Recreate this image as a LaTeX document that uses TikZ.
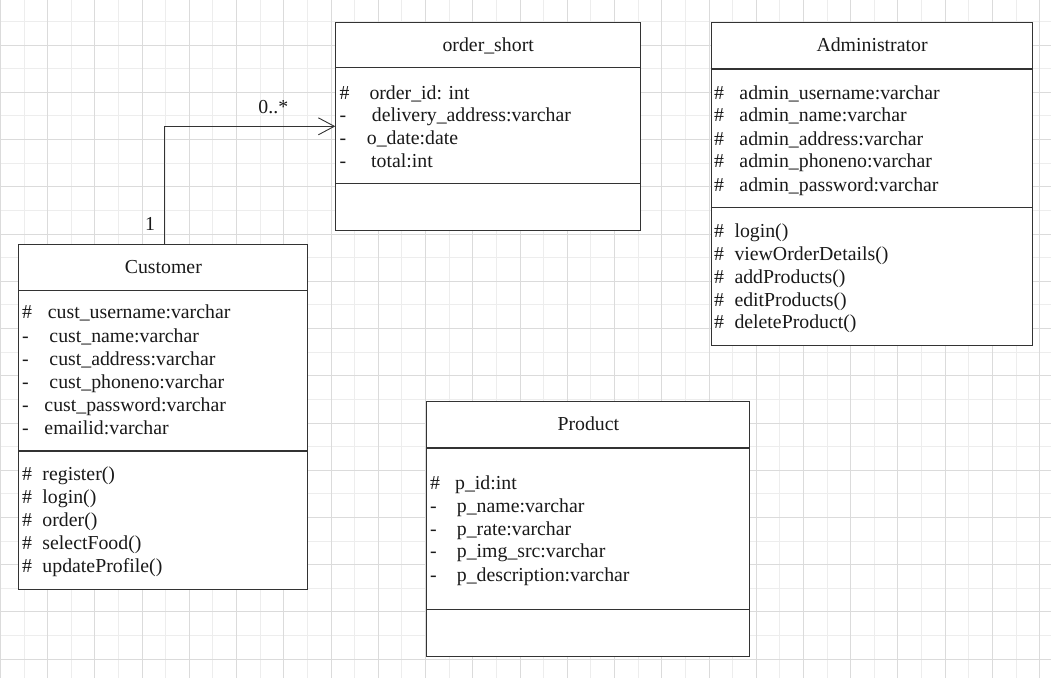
\documentclass[tikz,border=0pt]{standalone}
\usepackage{fontspec}
\setmainfont{Liberation Serif}
\usetikzlibrary{arrows.meta}
\def\vis#1#2{\makebox[#2][l]{#1}}
\def\sepline(#1)(#2){\draw[boxline] ([yshift=-#2]#1.north west) -- ([yshift=-#2]#1.north east);}

\tikzset{
	gridminor/.style={line width=0.8pt, color=black!7},
	gridmajor/.style={line width=0.8pt, color=black!14},
	boxline/.style={line width=1.1pt, color=black!80},
	classbox/.style={boxline, draw, fill=white, anchor=north west, inner sep=0pt},
	txt/.style={font=\fontsize{19.8}{23}\selectfont, text=black!90, inner sep=0pt, text height=14pt, text depth=4pt},
	headtext/.style={txt, anchor=center},
	attrline/.style={txt, anchor=west, text height=15pt, text depth=3pt},
	assoc/.style={line width=1pt, color=black!80, -{Straight Barb[length=16pt, width=17pt, line width=0.9pt]}},
}

\begin{document}
\begin{tikzpicture}[x=1pt, y=-1pt]
		%%%%% GRID %%%%%
		\useasboundingbox (0,0) rectangle (1051,678);
		\begin{scope}
		\clip (0,0) rectangle (1051,678);
		\foreach \i in {0,...,22} \draw[gridminor] ({23.92+47.24*\i},0) -- ({23.92+47.24*\i},678);
		\foreach \j in {0,...,14} \draw[gridminor] (0,{21.38+47.24*\j}) -- (1051,{21.38+47.24*\j});
		\foreach \i in {0,...,22} \draw[gridmajor] ({0.3+47.24*\i},0) -- ({0.3+47.24*\i},678);
		\foreach \j in {1,...,14} \draw[gridmajor] (0,{-2.24+47.24*\j}) -- (1051,{-2.24+47.24*\j});
		\end{scope}
		
		%%%%% CLASSES %%%%%
		\node[classbox, minimum width=304.7pt, minimum height=207.7pt] (ordershort) at (335.3,22.3) {};
		\node[classbox, minimum width=289pt, minimum height=344.7pt] (customer) at (18.3,244.3) {};
		\node[classbox, minimum width=321.6pt, minimum height=322.7pt] (admin) at (710.7,22.3) {};
		\node[classbox, minimum width=323pt, minimum height=254.4pt] (product) at (426.3,401.3) {};
		
		\sepline(ordershort)(45.4pt)
		\sepline(ordershort)(161pt)
		\sepline(customer)(46.4pt)
		\sepline(customer)(206.7pt)
		\sepline(admin)(46.7pt)
		\sepline(admin)(185pt)
		\sepline(product)(46.7pt)
		\sepline(product)(208pt)
		
		%%%%% order_short %%%%%
		\node[headtext] (ordershort-name) at ([yshift=-23.7pt]ordershort.north) {order\_short};
		\node[attrline] (os-1) at ([xshift=4pt, yshift=-70.7pt]ordershort.north west) {\vis{\#}{30pt}order\_id: int};
		\node[attrline] (os-2) at ([xshift=4pt, yshift=-93.4pt]ordershort.north west) {\vis{-}{32.4pt}delivery\_address:varchar};
		\node[attrline] (os-3) at ([xshift=4pt, yshift=-116.1pt]ordershort.north west) {\vis{-}{27.4pt}o\_date:date};
		\node[attrline] (os-4) at ([xshift=4pt, yshift=-138.8pt]ordershort.north west) {\vis{-}{31.7pt}total:int};
		
		%%%%% Customer %%%%%
		\node[headtext] (customer-name) at ([yshift=-24.2pt]customer.north) {Customer};
		\node[attrline] (cu-1) at ([xshift=3.7pt, yshift=-68.4pt]customer.north west) {\vis{\#}{25.7pt}cust\_username:varchar};
		\node[attrline] (cu-2) at ([xshift=3.7pt, yshift=-91.7pt]customer.north west) {\vis{-}{27.3pt}cust\_name:varchar};
		\node[attrline] (cu-3) at ([xshift=3.7pt, yshift=-115pt]customer.north west) {\vis{-}{27.3pt}cust\_address:varchar};
		\node[attrline] (cu-4) at ([xshift=3.7pt, yshift=-138.4pt]customer.north west) {\vis{-}{27.3pt}cust\_phoneno:varchar};
		\node[attrline] (cu-5) at ([xshift=3.7pt, yshift=-161pt]customer.north west) {\vis{-}{22.3pt}cust\_password:varchar};
		\node[attrline] (cu-6) at ([xshift=3.7pt, yshift=-184pt]customer.north west) {\vis{-}{22.3pt}emailid:varchar};
		\node[attrline] (cu-m1) at ([xshift=3.7pt, yshift=-230pt]customer.north west) {\vis{\#}{20.3pt}register()};
		\node[attrline] (cu-m2) at ([xshift=3.7pt, yshift=-253.4pt]customer.north west) {\vis{\#}{20.3pt}login()};
		\node[attrline] (cu-m3) at ([xshift=3.7pt, yshift=-275.7pt]customer.north west) {\vis{\#}{20.3pt}order()};
		\node[attrline] (cu-m4) at ([xshift=3.7pt, yshift=-299pt]customer.north west) {\vis{\#}{20.3pt}selectFood()};
		\node[attrline] (cu-m5) at ([xshift=3.7pt, yshift=-321.7pt]customer.north west) {\vis{\#}{20.3pt}updateProfile()};
		
		%%%%% Administrator %%%%%
		\node[headtext] (admin-name) at ([yshift=-24.4pt]admin.north) {Administrator};
		\node[attrline] (ad-1) at ([xshift=3.3pt, yshift=-71pt]admin.north west) {\vis{\#}{25.3pt}admin\_username:varchar};
		\node[attrline] (ad-2) at ([xshift=3.3pt, yshift=-93.4pt]admin.north west) {\vis{\#}{25.3pt}admin\_name:varchar};
		\node[attrline] (ad-3) at ([xshift=3.3pt, yshift=-116.7pt]admin.north west) {\vis{\#}{25.3pt}admin\_address:varchar};
		\node[attrline] (ad-4) at ([xshift=3.3pt, yshift=-139.4pt]admin.north west) {\vis{\#}{25.3pt}admin\_phoneno:varchar};
		\node[attrline] (ad-5) at ([xshift=3.3pt, yshift=-162.7pt]admin.north west) {\vis{\#}{25.3pt}admin\_password:varchar};
		\node[attrline] (ad-m1) at ([xshift=3.3pt, yshift=-208.7pt]admin.north west) {\vis{\#}{20.3pt}login()};
		\node[attrline] (ad-m2) at ([xshift=3.3pt, yshift=-232pt]admin.north west) {\vis{\#}{20.3pt}viewOrderDetails()};
		\node[attrline] (ad-m3) at ([xshift=3.3pt, yshift=-255pt]admin.north west) {\vis{\#}{20.3pt}addProducts()};
		\node[attrline] (ad-m4) at ([xshift=3.3pt, yshift=-277.7pt]admin.north west) {\vis{\#}{20.3pt}editProducts()};
		\node[attrline] (ad-m5) at ([xshift=3.3pt, yshift=-300pt]admin.north west) {\vis{\#}{20.3pt}deleteProduct()};
		
		%%%%% Product %%%%%
		\node[headtext] (product-name) at ([yshift=-24.4pt]product.north) {Product};
		\node[attrline] (pr-1) at ([xshift=3.7pt, yshift=-82pt]product.north west) {\vis{\#}{25pt}p\_id:int};
		\node[attrline] (pr-2) at ([xshift=3.7pt, yshift=-104.7pt]product.north west) {\vis{-}{26.7pt}p\_name:varchar};
		\node[attrline] (pr-3) at ([xshift=3.7pt, yshift=-128pt]product.north west) {\vis{-}{26.7pt}p\_rate:varchar};
		\node[attrline] (pr-4) at ([xshift=3.7pt, yshift=-150.4pt]product.north west) {\vis{-}{26.7pt}p\_img\_src:varchar};
		\node[attrline] (pr-5) at ([xshift=3.7pt, yshift=-173.7pt]product.north west) {\vis{-}{26.7pt}p\_description:varchar};
		
		%%%%% ASSOCIATION %%%%%
		\draw[assoc] ([xshift=146pt]customer.north west) |- ([yshift=-104pt]ordershort.north west);
		\node[txt] (mult-many) at (273.3,108.3) {0..*};
		\node[txt] (mult-one) at (150,225) {1};
		
\end{tikzpicture}
\end{document}
